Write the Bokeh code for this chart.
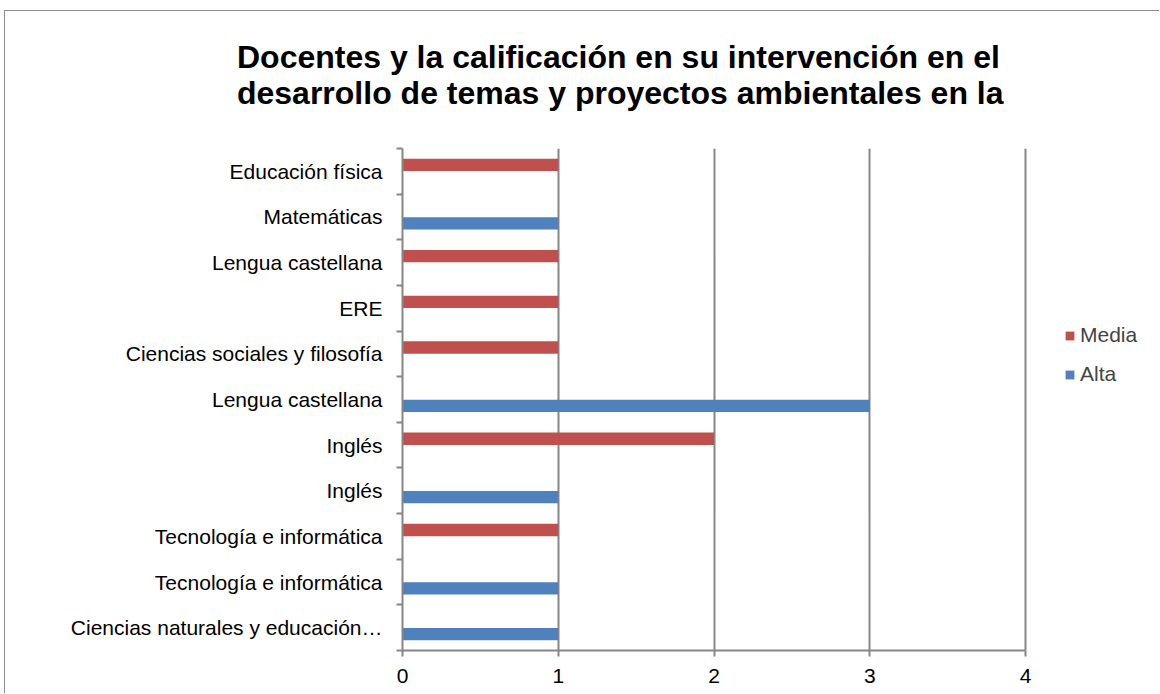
from bokeh.plotting import figure
from bokeh.models import (Range1d, FixedTicker, Title, Legend, LegendItem, ColumnDataSource)
from bokeh.embed import file_html
from bokeh.resources import INLINE

# ---- data (bottom to top, as drawn) ----
categories = [
    "Ciencias naturales y educación…",
    "Tecnología e informática",
    "Tecnología e informática",
    "Inglés",
    "Inglés",
    "Lengua castellana",
    "Ciencias sociales y filosofía",
    "ERE",
    "Lengua castellana",
    "Matemáticas",
    "Educación física",
]
alta = [1, 1, 0, 1, 0, 3, 0, 0, 0, 1, 0]
media = [0, 0, 1, 0, 2, 0, 1, 1, 1, 0, 1]
x_ticks = [0, 1, 2, 3, 4]
title_lines = [
    "Docentes y la calificación en su intervención en el",
    "desarrollo de temas y proyectos ambientales en la",
]
series_names = ["Media", "Alta"]

RED = "#C0504D"
BLUE = "#4F81BD"
GRAY = "#868686"
FONT = "Liberation Sans"

W, H = 1155, 683
frame_left = 397
n = len(categories)
centers = [i + 0.5 for i in range(n)]
x_end = x_ticks[-1] * (W - frame_left) / 623.0

p = figure(width=W, height=H, output_backend="svg", toolbar_location=None,
           x_range=Range1d(0, x_end), y_range=Range1d(0, n),
           min_border_left=frame_left, min_border_right=0,
           min_border_top=137, min_border_bottom=44)
p.outline_line_color = None
p.background_fill_color = "white"
p.border_fill_color = "white"
p.styles = {"border-left": "1px solid #8c8c8c", "border-top": "1px solid #8c8c8c",
            "margin-left": "4px", "margin-top": "10px"}

# bars
alta_src = ColumnDataSource(dict(
    y=[c - 0.14 for c, v in zip(centers, alta) if v > 0],
    right=[v for v in alta if v > 0]))
media_src = ColumnDataSource(dict(
    y=[c + 0.14 for c, v in zip(centers, media) if v > 0],
    right=[v for v in media if v > 0]))
r_alta = p.hbar(y="y", right="right", left=0, height=0.27, source=alta_src,
                fill_color=BLUE, line_color=None)
r_media = p.hbar(y="y", right="right", left=0, height=0.27, source=media_src,
                 fill_color=RED, line_color=None)

# x axis
p.xaxis.ticker = FixedTicker(ticks=x_ticks)
p.xaxis.bounds = (x_ticks[0], x_ticks[-1])
p.xaxis.axis_line_color = GRAY
p.xaxis.axis_line_width = 2
p.xaxis.major_tick_line_color = GRAY
p.xaxis.major_tick_line_width = 2
p.xaxis.major_tick_out = 6
p.xaxis.major_tick_in = 0
p.xaxis.minor_tick_line_color = None
p.xaxis.major_label_standoff = 12
p.xaxis.major_label_text_font = FONT
p.xaxis.major_label_text_font_size = "21px"
p.xaxis.major_label_text_color = "black"

# y axis
p.yaxis.ticker = FixedTicker(ticks=centers, minor_ticks=list(range(n + 1)))
p.yaxis.major_label_overrides = {c: lab for c, lab in zip(centers, categories)}
p.yaxis.axis_line_color = GRAY
p.yaxis.axis_line_width = 2
p.yaxis.major_tick_line_color = None
p.yaxis.major_tick_out = 0
p.yaxis.major_tick_in = 0
p.yaxis.minor_tick_line_color = GRAY
p.yaxis.minor_tick_line_width = 2
p.yaxis.minor_tick_out = 6
p.yaxis.minor_tick_in = 0
p.yaxis.major_label_standoff = 14
p.yaxis.major_label_text_font = FONT
p.yaxis.major_label_text_font_size = "21px"
p.yaxis.major_label_text_color = "black"

# grid
p.xgrid.grid_line_color = GRAY
p.xgrid.grid_line_width = 2
p.xgrid.ticker = FixedTicker(ticks=x_ticks[1:])
p.ygrid.grid_line_color = None

# title: two lines plus a blank spacer line, right-aligned
p.add_layout(Title(text=title_lines[0] + "\n" + title_lines[1] + "\n ",
                   align="right", offset=157, standoff=4,
                   text_line_height=1.0,
                   text_font=FONT, text_font_size="32px", text_font_style="bold",
                   text_color="black"), "above")

# legend (inside the widened frame, right of the axis bounds)
legend = Legend(items=[LegendItem(label=series_names[0], renderers=[r_media]),
                       LegendItem(label=series_names[1], renderers=[r_alta])],
                location=(662, 264), padding=0, margin=0,
                border_line_color=None, background_fill_alpha=0,
                glyph_width=11, glyph_height=11, label_height=24,
                label_standoff=5, spacing=15,
                label_text_font=FONT, label_text_font_size="21px")
p.add_layout(legend, "center")

open("out.html", "w").write(file_html(p, INLINE))
